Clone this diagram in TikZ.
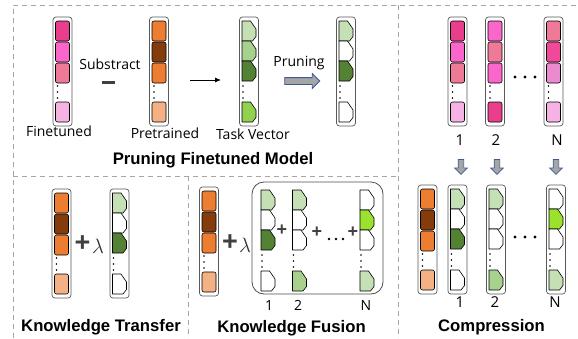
\documentclass[tikz,border=0pt]{standalone}
\usepackage{fontspec}
\setmainfont{Open Sans}
\newfontfamily\titlefont{Liberation Sans}
\usetikzlibrary{arrows.meta}
\usetikzlibrary{shapes.arrows}

% cell colours
\definecolor{pkA}{HTML}{E83E8C}
\definecolor{pkB}{HTML}{FB66CB}
\definecolor{pkC}{HTML}{EE7A98}
\definecolor{pkD}{HTML}{F5B2E3}
\definecolor{pkE}{HTML}{F1489A}
\definecolor{pkF}{HTML}{EC8ACF}
\definecolor{orA}{HTML}{ED7D31}
\definecolor{orB}{HTML}{843C0C}
\definecolor{orC}{HTML}{F4B183}
\definecolor{grA}{HTML}{C5E0B4}
\definecolor{grB}{HTML}{A9D18E}
\definecolor{grC}{HTML}{548235}
\definecolor{grD}{HTML}{92D050}
\definecolor{grE}{HTML}{9BE22E}
\definecolor{arrfill}{HTML}{A5A5A5}
\definecolor{arrline}{HTML}{3D5A96}

\tikzset{
  frameline/.style={draw=black!35, dash pattern=on 5pt off 4pt, line width=0.9pt},
  colbox/.style={draw=black!65, line width=0.7pt, rounded corners=3pt, minimum width=19pt, minimum height=109pt, inner sep=0pt},
  nobox/.style={minimum width=19pt, minimum height=109pt, inner sep=0pt},
  sqcell/.style={draw=black, line width=0.6pt, rounded corners=2pt, minimum width=14pt, minimum height=20pt, inner sep=0pt},
  chcell/.style={draw=black, line width=0.6pt, line join=round},
  lbl/.style={font=\fontsize{14}{16}\selectfont, inner sep=0pt, anchor=base},
  numlbl/.style={font=\fontsize{15}{17}\selectfont, inner sep=0pt, anchor=base},
  title/.style={font=\titlefont\bfseries\fontsize{16.7}{18}\selectfont, inner sep=0pt, anchor=base},
  bigplus/.style={font=\titlefont\bfseries\fontsize{27}{27}\selectfont, text=black!75, inner sep=0pt},
  smallplus/.style={font=\titlefont\bfseries\fontsize{18}{18}\selectfont, text=black!75, inner sep=0pt},
  lam/.style={font=\fontsize{20}{20}\selectfont, text=black!80, inner sep=0pt},
  fatarrow/.style={single arrow, draw=arrline, fill=arrfill, line width=0.8pt, single arrow head extend=4pt, inner sep=3pt, minimum height=35pt},
  downarrow/.style={single arrow, draw=arrline, fill=arrfill, line width=0.7pt, single arrow head extend=3.5pt, inner sep=2.5pt, minimum height=15pt, shape border rotate=270},
}

% column of square cells: name, x, top, colours
\newcommand{\sqcol}[4]{%
  \node[colbox] (#1) at (#2,#3+54.5) {};
  \foreach \col [count=\i] in {#4} {
    \pgfmathsetmacro\cy{#3+4+21*(\i-1)+18*(\i==4)}
    \node[sqcell,fill=\col] (#1-\i) at (#2,\cy+10) {};
  }
  \foreach \dy in {69,75,81} \fill (#2-5,#3+\dy) circle (0.8pt);
}

% column of task vector cells: [box], name, x, top, colours
\newcommand{\chcol}[5][colbox]{%
  \node[#1] (#2) at (#3,#4+54.5) {};
  \foreach \col [count=\i] in {#5} {
    \pgfmathsetmacro\cy{#4+4+20*(\i-1)+21*(\i==4)}
    \filldraw[chcell,fill=\col] (#3-7,\cy) -- ++(8.5,0) -- ++(5.5,8) -- ++(0,7.5) -- ++(-3.5,4.5) -- ++(-10.5,0) -- cycle;
  }
  \foreach \dy in {69,75,81} \fill (#3-6,#4+\dy) circle (0.8pt);
}

\begin{document}
\begin{tikzpicture}[x=1pt,y=-1pt]

    \useasboundingbox (0,0) rectangle (578,338);

    % dashed frames
    \draw[frameline] (13,338) -- (13,5) -- (578,5);
    \draw[frameline] (13,176) -- (398,176);
    \draw[frameline] (188,176) -- (188,338);
    \draw[frameline] (398,5) -- (398,338);

    % pruning finetuned model
    \sqcol{ft}{62.5}{17}{pkA,pkB,pkC,pkD}
    \sqcol{pt}{159}{17}{orA,orB,orA,orC}
    \chcol{tv}{249}{17}{grA,grB,grC,grD}
    \chcol{pr}{346}{17}{grA,white,grC,white}

    \node[lbl] (ftlbl) at (59,136.5) {Finetuned};
    \node[lbl] (sublbl) at (110,69) {Substract};
    \node[fill=black!75, minimum width=13pt, minimum height=2.6pt, inner sep=0pt] (minus) at (108.5,82.5) {};
    \node[lbl] (ptlbl) at (165,138) {Pretrained};
    \node[lbl] (tvlbl) at (253,139) {Task Vector};
    \node[lbl] (prlbl) at (299,66.5) {Pruning};

    \coordinate (arrS) at (190,80);
    \coordinate (arrE) at (221,80);
    \draw[-{Latex[length=6pt,width=5pt]}, line width=0.8pt] (arrS) -- (arrE);
    \node[fatarrow] (prarrow) at (300.5,81) {};

    \node[title] (t1) at (213,164) {Pruning Finetuned Model};

    % knowledge transfer
    \sqcol{ktpt}{61.5}{189}{orA,orB,orA,orC}
    \chcol{kttv}{119.5}{189}{grA,white,grC,white}
    \node[bigplus] (ktplus) at (82.5,244) {+};
    \node[lam] (ktlam) at (98,246) {$\lambda$};
    \node[title] (t2) at (101,331) {Knowledge Transfer};

    % knowledge fusion
    \sqcol{kfpt}{209}{187}{orA,orB,orA,orC}
    \node[bigplus] (kfplus) at (230,243) {+};
    \node[lam] (kflam) at (245,245) {$\lambda$};
    \node[draw=black!70, line width=0.8pt, rounded corners=12pt, minimum width=131pt, minimum height=112pt, inner sep=0pt] (fusebox) at (317.5,238) {};
    \chcol[nobox]{kfA}{268}{186}{grA,white,grC,white}
    \chcol[nobox]{kfB}{299.5}{186}{grA,white,white,grB}
    \chcol[nobox]{kfN}{367}{186}{white,grE,white,grA}
    \node[smallplus] (kfp1) at (282,230.5) {+};
    \node[smallplus] (kfp2) at (317,232.5) {+};
    \node[smallplus] (kfp3) at (353,232.5) {+};
    \foreach \x in {329,336,343} \fill (\x,239) circle (1.3pt);
    \node[lbl] (kfn1) at (269,310) {1};
    \node[lbl] (kfn2) at (298,310) {2};
    \node[lbl] (kfnN) at (366,310) {N};
    \node[title] (t3) at (291.5,332) {Knowledge Fusion};

    % compression
    \sqcol{mA}{457.5}{17}{pkA,pkB,pkC,pkD}
    \sqcol{mB}{495}{17}{pkB,pkC,pkB,pkA}
    \sqcol{mN}{553.5}{17}{pkC,pkE,pkF,pkD}
    \foreach \x in {515,525,535} \fill (\x,77) circle (1.7pt);
    \node[numlbl] (mn1) at (460,145) {1};
    \node[numlbl] (mn2) at (496,145) {2};
    \node[numlbl] (mnN) at (557,145) {N};

    \node[downarrow] (dA) at (461,165.5) {};
    \node[downarrow] (dB) at (497,165.5) {};
    \node[downarrow] (dN) at (556,165.5) {};

    \sqcol{cpt}{427.5}{185}{orA,orB,orA,orC}
    \chcol{cA}{457.5}{185}{grA,white,grC,white}
    \chcol{cB}{496}{185}{grA,white,white,grB}
    \chcol{cN}{556}{185}{white,grE,white,grA}
    \foreach \x in {515,525,535} \fill (\x,237) circle (1.7pt);
    \node[numlbl] (cn1) at (460,307) {1};
    \node[numlbl] (cn2) at (495,307) {2};
    \node[numlbl] (cnN) at (555,307) {N};
    \node[title] (t4) at (491.5,331.5) {Compression};

\end{tikzpicture}
\end{document}
